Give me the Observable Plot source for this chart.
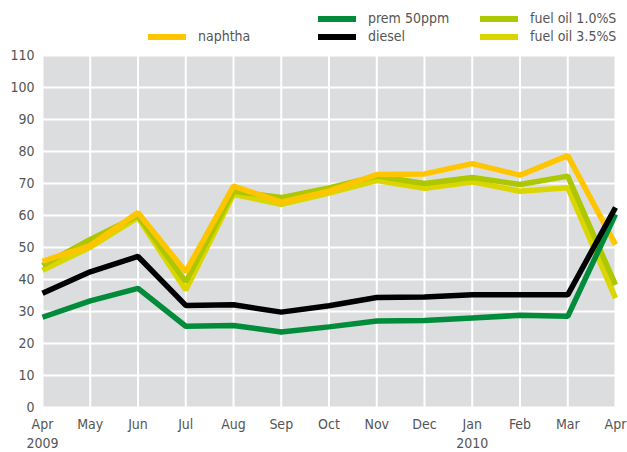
<!DOCTYPE html>
<html>
<head>
<meta charset="utf-8">
<script src="https://cdn.jsdelivr.net/npm/d3@7"></script>
<script src="https://cdn.jsdelivr.net/npm/@observablehq/plot@0.6"></script>
<style>
  html, body { margin: 0; padding: 0; background: #fff; }
  #wrap { position: relative; width: 627px; height: 452px; font-family: "DejaVu Sans Condensed", "Liberation Sans Narrow", "Roboto", sans-serif; }
  #legend { position: relative; width: 627px; height: 48px; }
  .item { position: absolute; font-size: 14px; color: #555; line-height: 18px; }
  .sw { position: absolute; width: 38px; height: 6px; }
</style>
</head>
<body>
<div id="wrap">
  <div id="legend"></div>
  <div id="chart"></div>
</div>
<script>
const months = ["Apr","May","Jun","Jul","Aug","Sep","Oct","Nov","Dec","Jan","Feb","Mar","Apr"];
const years  = ["2009","","","","","","","","","2010","","",""];
const seriesNames = ["fuel oil 3.5%S","fuel oil 1.0%S","naphtha","prem 50ppm","diesel"];
const seriesColors = ["#dcd600","#adc800","#ffc600","#008c3a","#000000"];

const naphtha = [45.7, 50.6, 60.9, 42.4, 69.2, 64.2, 67.6, 72.8, 73.0, 76.2, 72.6, 78.7, 50.9];
const fuelOil10 = [44.4, 52.5, 59.9, 39.3, 67.6, 65.6, 68.6, 72.3, 70.0, 71.9, 69.7, 72.3, 38.3];
const fuelOil35 = [42.9, 50.1, 59.4, 36.7, 66.6, 63.5, 67.0, 70.9, 68.5, 70.5, 67.6, 68.7, 34.2];
const prem50 = [28.2, 33.3, 37.2, 25.4, 25.6, 23.6, 25.2, 27.0, 27.2, 28.0, 28.8, 28.5, 60.4];
const diesel = [35.7, 42.4, 47.2, 31.9, 32.1, 29.8, 31.8, 34.4, 34.5, 35.2, 35.2, 35.2, 62.5];
const yTicks = [0,10,20,30,40,50,60,70,80,90,100,110];

const seriesValues = [fuelOil35, fuelOil10, naphtha, prem50, diesel];
const data = [];
seriesNames.forEach((name, s) => seriesValues[s].forEach((v, i) => data.push({series: name, i, value: v})));

// legend
const legendItems = [
  {name: "naphtha", color: "#ffc600", x: 148, y: 37},
  {name: "prem 50ppm", color: "#008c3a", x: 318, y: 19},
  {name: "diesel", color: "#000000", x: 318, y: 37},
  {name: "fuel oil 1.0%S", color: "#adc800", x: 480, y: 19},
  {name: "fuel oil 3.5%S", color: "#dcd600", x: 480, y: 37}
];
const legend = document.getElementById("legend");
legendItems.forEach(d => {
  const sw = document.createElement("div");
  sw.className = "sw";
  sw.style.left = d.x + "px"; sw.style.top = (d.y - 3) + "px"; sw.style.background = d.color;
  legend.appendChild(sw);
  const t = document.createElement("div");
  t.className = "item";
  t.textContent = d.name;
  t.style.left = (d.x + 50) + "px"; t.style.top = (d.y - 10) + "px";
  legend.appendChild(t);
});

const chart = Plot.plot({
  width: 627,
  height: 404,
  marginTop: 7,
  marginBottom: 45,
  marginLeft: 42,
  marginRight: 12,
  style: {fontFamily: "\"DejaVu Sans Condensed\", \"Liberation Sans Narrow\", Roboto, sans-serif", fontSize: "14px", color: "#555", background: "#fff"},
  x: {domain: [0, 12], label: null},
  y: {domain: [0, 110], label: null},
  color: {domain: seriesNames, range: seriesColors},
  marks: [
    Plot.frame({fill: "#dcdddf", stroke: null}),
    Plot.gridX(d3.range(13), {stroke: "#fff", strokeOpacity: 1, strokeWidth: 2}),
    Plot.gridY(yTicks, {stroke: "#fff", strokeOpacity: 1, strokeWidth: 2}),
    Plot.axisY(yTicks, {tickSize: 0, tickPadding: 8, fill: "#555", label: null}),
    Plot.axisX(d3.range(13), {tickSize: 0, tickPadding: 8, fill: "#555", label: null, lineHeight: 1.35,
      tickFormat: i => months[i] + (years[i] ? "\n" + years[i] : "")}),
    Plot.line(data, {x: "i", y: "value", z: "series", stroke: "series", strokeWidth: 5.5, strokeLinejoin: "miter", strokeLinecap: "butt"})
  ]
});
document.getElementById("chart").appendChild(chart);
</script>
</body>
</html>
